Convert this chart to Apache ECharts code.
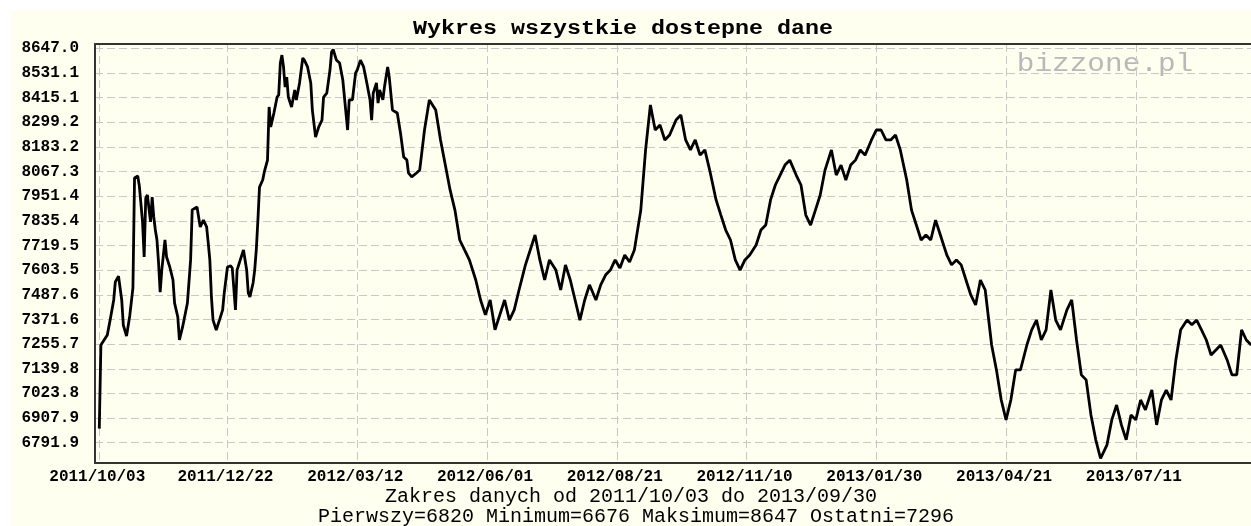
<!DOCTYPE html>
<html><head><meta charset="utf-8">
<script src="https://cdn.jsdelivr.net/npm/echarts@6/dist/echarts.min.js"></script>
<style>
html,body{margin:0;padding:0;background:#fff;overflow:hidden;width:1251px;height:526px;}
#bg{position:absolute;left:11px;top:10px;right:0;bottom:0;background:#fffff0;}
#chart{position:absolute;left:0;top:0;width:1251px;height:526px;}
</style></head><body><div id="bg"></div><div id="chart"></div>
<script>
const titleText = 'Wykres wszystkie dostepne dane';
const rangeText = 'Zakres danych od 2011/10/03 do 2013/09/30';
const statsText = 'Pierwszy=6820 Minimum=6676 Maksimum=8647 Ostatni=7296';
const watermarkText = 'bizzone.pl';

const xTickLabels = ['2011/10/03','2011/12/22','2012/03/12','2012/06/01','2012/08/21','2012/11/10','2013/01/30','2013/04/21','2013/07/11'];
const yTickLabels = [6791.9,6907.9,7023.8,7139.8,7255.7,7371.6,7487.6,7603.5,7719.5,7835.4,7951.4,8067.3,8183.2,8299.2,8415.1,8531.1,8647.0];

const dates = [
'2011-10-03','2011-10-04','2011-10-06','2011-10-08','2011-10-10','2011-10-12','2011-10-13','2011-10-15','2011-10-17','2011-10-18',
'2011-10-20','2011-10-22','2011-10-24','2011-10-25','2011-10-27','2011-10-28','2011-10-30','2011-10-31','2011-11-01','2011-11-02',
'2011-11-04','2011-11-05','2011-11-06','2011-11-07','2011-11-08','2011-11-09','2011-11-10','2011-11-11','2011-11-13','2011-11-14',
'2011-11-16','2011-11-18','2011-11-19','2011-11-21','2011-11-22','2011-11-24','2011-11-27','2011-11-29','2011-11-30','2011-12-03',
'2011-12-05','2011-12-07','2011-12-09','2011-12-10','2011-12-11','2011-12-12','2011-12-13','2011-12-15','2011-12-17','2011-12-19',
'2011-12-20','2011-12-22','2011-12-24','2011-12-25','2011-12-27','2011-12-28','2011-12-30','2012-01-01','2012-01-03','2012-01-04',
'2012-01-05','2012-01-07','2012-01-08','2012-01-09','2012-01-10','2012-01-11','2012-01-13','2012-01-14','2012-01-16','2012-01-17',
'2012-01-18','2012-01-20','2012-01-22','2012-01-23','2012-01-24','2012-01-25','2012-01-26','2012-01-27','2012-01-28','2012-01-29',
'2012-01-31','2012-02-02','2012-02-03','2012-02-05','2012-02-07','2012-02-08','2012-02-10','2012-02-12','2012-02-13','2012-02-15',
'2012-02-17','2012-02-19','2012-02-20','2012-02-22','2012-02-24','2012-02-25','2012-02-26','2012-02-28','2012-03-01','2012-03-03',
'2012-03-06','2012-03-07','2012-03-09','2012-03-11','2012-03-12','2012-03-14','2012-03-16','2012-03-18','2012-03-20','2012-03-21',
'2012-03-22','2012-03-24','2012-03-25','2012-03-26','2012-03-28','2012-03-29','2012-03-31','2012-04-01','2012-04-03','2012-04-06',
'2012-04-08','2012-04-10','2012-04-12','2012-04-13','2012-04-15','2012-04-18','2012-04-20','2012-04-23','2012-04-26','2012-04-30',
'2012-05-03','2012-05-06','2012-05-09','2012-05-12','2012-05-15','2012-05-18','2012-05-21','2012-05-25','2012-05-28','2012-05-31',
'2012-06-03','2012-06-06','2012-06-09','2012-06-12','2012-06-15','2012-06-18','2012-06-21','2012-06-25','2012-06-28','2012-07-01',
'2012-07-04','2012-07-07','2012-07-10','2012-07-14','2012-07-17','2012-07-20','2012-07-23','2012-07-26','2012-07-29','2012-08-01',
'2012-08-04','2012-08-08','2012-08-11','2012-08-14','2012-08-17','2012-08-20','2012-08-23','2012-08-26','2012-08-29','2012-09-01',
'2012-09-05','2012-09-08','2012-09-11','2012-09-14','2012-09-17','2012-09-20','2012-09-23','2012-09-27','2012-09-30','2012-10-03',
'2012-10-06','2012-10-09','2012-10-12','2012-10-15','2012-10-18','2012-10-22','2012-10-25','2012-10-28','2012-10-31','2012-11-03',
'2012-11-06','2012-11-09','2012-11-12','2012-11-16','2012-11-19','2012-11-22','2012-11-25','2012-11-28','2012-12-01','2012-12-04',
'2012-12-07','2012-12-11','2012-12-14','2012-12-17','2012-12-20','2012-12-23','2012-12-26','2012-12-29','2013-01-02','2013-01-05',
'2013-01-08','2013-01-11','2013-01-14','2013-01-17','2013-01-20','2013-01-23','2013-01-27','2013-01-30','2013-02-02','2013-02-05',
'2013-02-08','2013-02-11','2013-02-14','2013-02-18','2013-02-21','2013-02-24','2013-02-27','2013-03-02','2013-03-05','2013-03-08',
'2013-03-11','2013-03-15','2013-03-18','2013-03-21','2013-03-24','2013-03-27','2013-03-30','2013-04-02','2013-04-05','2013-04-08',
'2013-04-12','2013-04-15','2013-04-18','2013-04-21','2013-04-24','2013-04-27','2013-04-30','2013-05-04','2013-05-07','2013-05-10',
'2013-05-13','2013-05-16','2013-05-19','2013-05-22','2013-05-25','2013-05-29','2013-06-01','2013-06-04','2013-06-07','2013-06-10',
'2013-06-13','2013-06-16','2013-06-19','2013-06-23','2013-06-26','2013-06-29','2013-07-02','2013-07-05','2013-07-08','2013-07-11',
'2013-07-14','2013-07-17','2013-07-21','2013-07-24','2013-07-27','2013-07-30','2013-08-02','2013-08-05','2013-08-08','2013-08-12',
'2013-08-15','2013-08-18','2013-08-21','2013-08-24','2013-08-27','2013-08-30','2013-09-02','2013-09-06','2013-09-09','2013-09-12',
'2013-09-15','2013-09-18','2013-09-21'
];
const values = [
6820,7223,7247,7271,7353,7440,7527,7555,7440,7319,
7266,7363,7498,8028,8037,7989,7816,7647,7931,7946,
7816,7936,7840,7777,7729,7618,7478,7584,7729,7647,
7599,7536,7425,7358,7247,7310,7425,7633,7874,7888,
7792,7825,7792,7715,7633,7454,7343,7295,7343,7392,
7474,7599,7604,7594,7392,7584,7633,7681,7584,7474,
7454,7522,7584,7681,7825,7984,8018,8057,8114,8370,
8274,8341,8418,8428,8582,8620,8563,8466,8514,8418,
8370,8452,8404,8486,8606,8596,8563,8486,8355,8225,
8274,8307,8418,8437,8548,8635,8647,8596,8582,8500,
8259,8404,8404,8534,8548,8596,8563,8486,8404,8307,
8437,8486,8389,8452,8404,8466,8563,8514,8355,8341,
8245,8129,8114,8052,8033,8052,8066,8259,8404,8355,
8211,8090,7969,7873,7729,7681,7633,7536,7440,7368,
7440,7296,7368,7440,7343,7392,7488,7609,7681,7753,
7633,7536,7633,7584,7488,7609,7536,7440,7343,7440,
7513,7440,7513,7560,7584,7633,7594,7657,7623,7681,
7873,8163,8380,8259,8283,8211,8235,8307,8331,8211,
8163,8211,8138,8163,8066,7922,7849,7777,7729,7633,
7584,7633,7657,7705,7777,7801,7922,7994,8042,8090,
8114,8042,7994,7849,7801,7873,7946,8066,8163,8042,
8090,8018,8090,8114,8163,8138,8211,8259,8259,8211,
8211,8235,8163,8018,7873,7801,7729,7753,7729,7825,
7753,7657,7609,7633,7609,7536,7464,7416,7536,7488,
7223,7103,6958,6862,6958,7103,7103,7223,7296,7343,
7247,7296,7488,7343,7296,7392,7440,7247,7079,7055,
6886,6766,6676,6742,6862,6934,6838,6766,6886,6862,
6958,6910,7006,6838,6958,7006,6958,7151,7296,7343,
7320,7343,7296,7247,7175,7199,7223,7151,7079,7079,
7296,7247,7223
];

const DAY = 86400000;
function parseDate(s) { const p = s.split(/[-\/]/).map(Number); return Date.UTC(p[0], p[1] - 1, p[2]); }
function pad(n) { return (n < 10 ? '0' : '') + n; }
function fmtDate(v) { const d = new Date(v); return d.getUTCFullYear() + '/' + pad(d.getUTCMonth() + 1) + '/' + pad(d.getUTCDate()); }

const start = parseDate(xTickLabels[0]);
const xMin = start - 2.68 * DAY;
const xMax = start + 718.9 * DAY;
const xTicks = xTickLabels.map(parseDate);
const seriesData = dates.map((d, i) => [parseDate(d), values[i]]);

const labelFont = { fontFamily: '"Liberation Mono", "DejaVu Sans Mono", monospace', fontWeight: 'bold', fontSize: 16, color: '#000' };
const gridLine = { show: true, lineStyle: { color: '#c8c8c8', width: 1, type: [8, 4] } };
const frameLine = { show: true, lineStyle: { color: '#333', width: 2 } };

const chart = echarts.init(document.getElementById('chart'), null, { renderer: 'canvas' });
chart.setOption({
  animation: false,
  backgroundColor: 'transparent',
  grid: { left: 95, top: 44, right: 0, bottom: 63, containLabel: false },
  xAxis: [
    {
      type: 'value', min: xMin, max: xMax, position: 'bottom',
      axisLine: frameLine,
      axisTick: { show: false, customValues: xTicks },
      axisLabel: Object.assign({ customValues: xTicks, formatter: fmtDate, margin: 6, padding: [0, 4, 0, 0], showMinLabel: true, showMaxLabel: true }, labelFont),
      splitLine: gridLine
    },
    {
      type: 'value', min: xMin, max: xMax, position: 'top',
      axisLine: frameLine, axisTick: { show: false }, axisLabel: { show: false }, splitLine: { show: false }
    }
  ],
  yAxis: [
    {
      type: 'value', min: 6696.6, max: 8667.2, position: 'left',
      axisLine: frameLine,
      axisTick: { show: false, customValues: yTickLabels },
      axisLabel: Object.assign({ customValues: yTickLabels, formatter: v => v.toFixed(1), margin: 16, padding: [7, 0, 0, 0] }, labelFont),
      splitLine: gridLine
    },
    {
      type: 'value', min: 6654.3, max: 8673.5, show: false,
      axisLine: { show: false }, axisTick: { show: false }, axisLabel: { show: false }, splitLine: { show: false }
    }
  ],
  series: [{
    type: 'line', xAxisIndex: 0, yAxisIndex: 1, data: seriesData,
    showSymbol: false, symbol: 'none', clip: true,
    lineStyle: { color: '#000', width: 2.8 }
  }],
  graphic: { elements: [
    { type: 'text', x: 623, y: 29, scaleX: 1.167, z: 10,
      style: { text: titleText, font: 'bold 20px "Liberation Mono", monospace', fill: '#000', align: 'center', verticalAlign: 'middle', textAlign: 'center', textVerticalAlign: 'middle' } },
    { type: 'text', x: 631, y: 497, z: 10,
      style: { text: rangeText, font: '20px "Liberation Mono", monospace', fill: '#000', align: 'center', verticalAlign: 'middle', textAlign: 'center', textVerticalAlign: 'middle' } },
    { type: 'text', x: 636, y: 517, z: 10,
      style: { text: statsText, font: '20px "Liberation Mono", monospace', fill: '#000', align: 'center', verticalAlign: 'middle', textAlign: 'center', textVerticalAlign: 'middle' } },
    { type: 'text', x: 1105, y: 64, scaleX: 1.13, z: -1,
      style: { text: watermarkText, font: '26px "Liberation Mono", monospace', fill: '#b8b8b8', align: 'center', verticalAlign: 'middle', textAlign: 'center', textVerticalAlign: 'middle' } }
  ] }
});
</script></body></html>
